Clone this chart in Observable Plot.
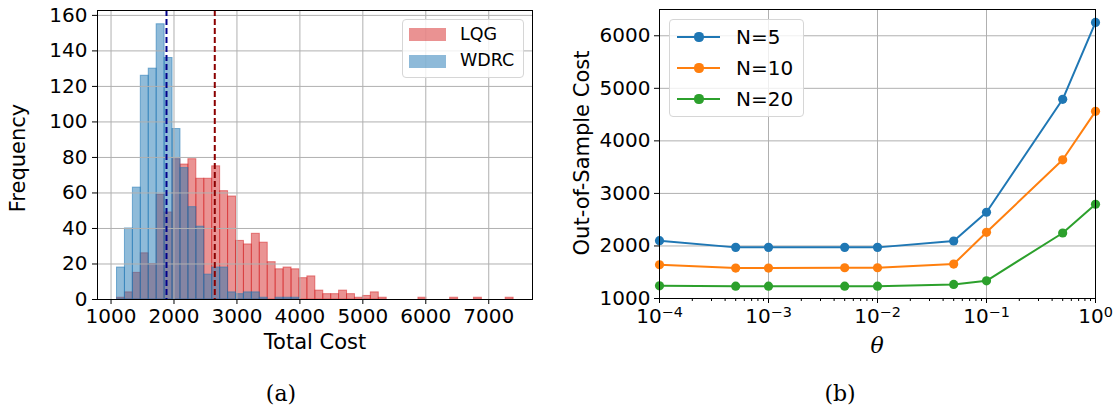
<!DOCTYPE html>
<html><head><meta charset="utf-8">
<script src="https://cdn.jsdelivr.net/npm/d3@7"></script>
<script src="https://cdn.jsdelivr.net/npm/@observablehq/plot@0.6"></script>
<style>
body{margin:0;background:#fff;}
#wrap{position:relative;width:1113px;height:408px;font-family:"DejaVu Sans",sans-serif;color:#000;overflow:hidden;}
.abs{position:absolute;white-space:nowrap;line-height:1;}
.plot{position:absolute;top:0;}
.legend{position:absolute;background:rgba(255,255,255,0.8);border:1px solid #d6d6d6;border-radius:4px;box-sizing:border-box;}
.cap{font-family:"DejaVu Serif",serif;font-size:22px;}
</style></head><body><div id="wrap"></div>
<script>
// ---------- data: histogram (panel a) ----------
const binStart = 1095;
const binWidth = 126;
const lqgCounts = [1,4,15,26,20,59,49,79,76,79,68,68,75,61,58,33,31,37,32,21,17,18,17,12,13,5,3,3,5,3,1,2,4,1,0,0,0,0,1,0,0,0,1,0,0,1,0,0,0,1];
const wdrcCounts = [18,40,63,126,130,155,136,96,74,52,41,14,18,18,4,3,4,4,1,0,1,1,1];
const meanLQG = 2648;
const meanWDRC = 1881;
const histTicksX = [1000,2000,3000,4000,5000,6000,7000];
const histTicksY = [0,20,40,60,80,100,120,140,160];
const histNames = ["LQG","WDRC"];
const histColors = ["#d62728","#1f77b4"];

// ---------- data: out-of-sample cost (panel b) ----------
const thetas = [1e-4,5e-4,1e-3,5e-3,1e-2,5e-2,1e-1,5e-1,1];
const costN5  = [2100,1973,1973,1973,1973,2094,2641,4791,6254];
const costN10 = [1642,1579,1579,1585,1585,1655,2260,3640,4562];
const costN20 = [1242,1235,1235,1235,1235,1267,1337,2247,2794];
const seriesNames = ["N=5","N=10","N=20"];
const seriesColors = ["#1f77b4","#ff7f0e","#2ca02c"];
const thetaTicks = [1e-4,1e-3,1e-2,1e-1,1];
const thetaExps = ["\u22124","\u22123","\u22122","\u22121","0"];
const costTicksY = [1000,2000,3000,4000,5000,6000];

const wrap = document.getElementById("wrap");

function el(tag, cls, css, text){
  const e = document.createElement(tag);
  if (cls) e.className = cls;
  Object.assign(e.style, css||{});
  if (text != null) e.textContent = text;
  wrap.appendChild(e);
  return e;
}

// ---------- panel a ----------
function toRects(counts){
  return counts.map((c,i)=>({x1: binStart + i*binWidth, x2: binStart + (i+1)*binWidth, y: c})).filter(d=>d.y>0);
}
const lqgRects = toRects(lqgCounts);
const wdrcRects = toRects(wdrcCounts);
const gridStyle = {stroke:"#b0b0b0", strokeOpacity:1, strokeWidth:1};

const plotA = Plot.plot({
  width: 545, height: 360,
  marginLeft: 97, marginRight: 13, marginTop: 10, marginBottom: 61,
  style: {fontFamily: "DejaVu Sans", fontSize: "20px", background: "transparent", overflow: "visible"},
  x: {domain: [785, 7695]},
  y: {domain: [0, 162.75]},
  marks: [
    Plot.rectY(lqgRects, {x1:"x1", x2:"x2", y:"y", fill: histColors[0], fillOpacity: 0.5, stroke: histColors[0], strokeOpacity: 0.55, strokeWidth: 1, insetLeft:0, insetRight:0}),
    Plot.rectY(wdrcRects, {x1:"x1", x2:"x2", y:"y", fill: histColors[1], fillOpacity: 0.5, stroke: histColors[1], strokeOpacity: 0.55, strokeWidth: 1, insetLeft:0, insetRight:0}),
    Plot.gridX(histTicksX, gridStyle),
    Plot.gridY(histTicksY, gridStyle),
    Plot.ruleX([meanWDRC], {stroke: "#00008b", strokeWidth: 2, strokeDasharray: "6,3"}),
    Plot.ruleX([meanLQG], {stroke: "#8b0000", strokeWidth: 2, strokeDasharray: "6,3"}),
    Plot.axisX(histTicksX, {tickSize: 5, tickPadding: 4, label: null, tickFormat: d=>String(d)}),
    Plot.axisY(histTicksY, {tickSize: 5, tickPadding: 5, label: null, tickFormat: d=>String(d)}),
    Plot.frame({stroke: "#000", strokeWidth: 1})
  ]
});
plotA.classList.add("plot");
plotA.style.left = "0px";
wrap.appendChild(plotA);

// ---------- panel b ----------
const lineData = [];
[costN5, costN10, costN20].forEach((arr, s) => arr.forEach((v,i) => lineData.push({theta: thetas[i], cost: v, series: seriesNames[s]})));
const minorTicks = [];
for (let k = -4; k < 0; k++) for (let m = 2; m <= 9; m++) minorTicks.push(m * Math.pow(10, k));

const plotB = Plot.plot({
  width: 558, height: 360,
  marginLeft: 104, marginRight: 18, marginTop: 9, marginBottom: 62,
  style: {fontFamily: "DejaVu Sans", fontSize: "20px", background: "transparent", overflow: "visible"},
  x: {type: "log", domain: [1e-4, 1]},
  y: {domain: [1000, 6500]},
  color: {domain: seriesNames, range: seriesColors},
  marks: [
    Plot.gridX(thetaTicks, gridStyle),
    Plot.gridY(costTicksY, gridStyle),
    Plot.line(lineData, {x:"theta", y:"cost", stroke:"series", strokeWidth: 2}),
    Plot.dot(lineData, {x:"theta", y:"cost", fill:"series", r: 4.6}),
    Plot.axisX(minorTicks, {tickSize: 3, tickFormat: () => "", label: null}),
    Plot.axisX(thetaTicks, {tickSize: 5, tickPadding: 5, label: null, tickFormat: d => "10^" + thetaExps[thetaTicks.indexOf(d)]}),
    Plot.axisY(costTicksY, {tickSize: 5, tickPadding: 4, label: null, tickFormat: d=>String(d)}),
    Plot.frame({stroke: "#000", strokeWidth: 1})
  ]
});
plotB.classList.add("plot");
plotB.style.left = "555px";
wrap.appendChild(plotB);

// superscript exponents for log ticks
plotB.querySelectorAll("text").forEach(t => {
  const s = t.textContent;
  if (s.startsWith("10^")) {
    const exp = s.slice(3);
    t.textContent = "";
    const base = document.createElementNS("http://www.w3.org/2000/svg","tspan");
    base.textContent = "10";
    const sup = document.createElementNS("http://www.w3.org/2000/svg","tspan");
    sup.textContent = exp;
    sup.setAttribute("dy","-0.42em");
    sup.setAttribute("font-size","0.72em");
    t.appendChild(base); t.appendChild(sup);
  }
});

// ---------- axis labels & captions (HTML text) ----------
el("div","abs",{left:"315px", top:"342px", transform:"translate(-50%,-50%)", fontSize:"21px"}, "Total Cost");
el("div","abs",{left:"18px", top:"158px", transform:"translate(-50%,-50%) rotate(-90deg)", fontSize:"21px"}, "Frequency");
el("div","abs",{left:"877px", top:"346px", transform:"translate(-50%,-50%)", fontSize:"22px", fontFamily:"DejaVu Serif", fontStyle:"italic"}, "\u03b8");
el("div","abs",{left:"582px", top:"153px", transform:"translate(-50%,-50%) rotate(-90deg)", fontSize:"21px"}, "Out-of-Sample Cost");
el("div","abs cap",{left:"281px", top:"394px", transform:"translate(-50%,-50%)"}, "(a)");
el("div","abs cap",{left:"840px", top:"394px", transform:"translate(-50%,-50%)"}, "(b)");

// ---------- legend panel a ----------
const legA = el("div","legend",{left:"402px", top:"19px", width:"122px", height:"59px"});
histNames.forEach((n,i)=>{
  const sw = document.createElement("div");
  Object.assign(sw.style,{position:"absolute", left:"6px", top:(8+i*26.7)+"px", width:"37px", height:"13px", background:histColors[i], opacity:0.5, border:"1px solid "+histColors[i], boxSizing:"border-box"});
  legA.appendChild(sw);
  const tx = document.createElement("div");
  tx.className = "abs";
  Object.assign(tx.style,{left:"57px", top:(14.5+i*26.7)+"px", transform:"translateY(-50%)", fontSize:"17.5px"});
  tx.textContent = n;
  legA.appendChild(tx);
});

// ---------- legend panel b ----------
const legB = el("div","legend",{left:"669px", top:"19px", width:"135px", height:"98px"});
seriesNames.forEach((n,i)=>{
  const ln = document.createElement("div");
  Object.assign(ln.style,{position:"absolute", left:"7px", top:(16+i*31)+"px", width:"43px", height:"2px", background:seriesColors[i]});
  legB.appendChild(ln);
  const dt = document.createElement("div");
  Object.assign(dt.style,{position:"absolute", left:(29-4.6)+"px", top:(17+i*31-4.6)+"px", width:"9.2px", height:"9.2px", borderRadius:"50%", background:seriesColors[i]});
  legB.appendChild(dt);
  const tx = document.createElement("div");
  tx.className = "abs";
  Object.assign(tx.style,{left:"66px", top:(17+i*31)+"px", transform:"translateY(-50%)", fontSize:"20px"});
  tx.textContent = n;
  legB.appendChild(tx);
});
</script></body></html>
